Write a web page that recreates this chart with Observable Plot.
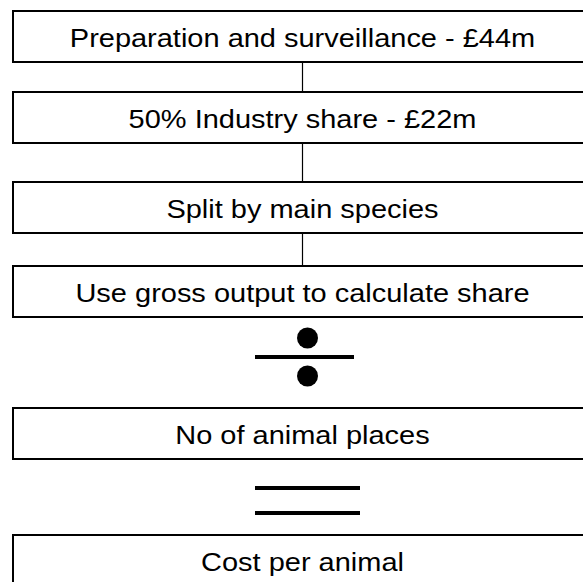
<!DOCTYPE html>
<html>
<head>
<meta charset="utf-8">
<script src="https://cdn.jsdelivr.net/npm/d3@7"></script>
<script src="https://cdn.jsdelivr.net/npm/@observablehq/plot@0.6"></script>
<style>
  html, body { margin: 0; padding: 0; background: #fff; overflow: hidden; }
  #chart svg { display: block; }
</style>
</head>
<body>
<div id="chart"></div>
<script>
// Flowchart steps (text in each box)
const labels = [
  "Preparation and surveillance - £44m",
  "50% Industry share - £22m",
  "Split by main species",
  "Use gross output to calculate share",
  "No of animal places",
  "Cost per animal"
];
// Operator placed between consecutive boxes
const operators = ["connector", "connector", "connector", "divide", "equals"];

// Layout (pixel-space diagram coordinates)
const W = 583, H = 582;
const boxTop = [11, 92, 182, 266, 408, 535];
const boxH = 51;
const boxLeft = 13, boxRight = 640;
const cx = 302;
const textStretch = 1.115;

const boxes = labels.map((label, i) => ({
  label, y1: boxTop[i], y2: boxTop[i] + boxH, yc: boxTop[i] + boxH / 2 + 2
}));

const connectors = [], divLines = [], divDots = [], eqLines = [];
operators.forEach((op, i) => {
  const a = boxes[i].y2, b = boxes[i + 1].y1;
  if (op === "connector") connectors.push({ y1: a, y2: b + 2 });
  else if (op === "divide") {
    const m = (a + b) / 2 - 7;
    divLines.push({ y: m + 1, x1: 255, x2: 354 });
    divDots.push({ x: 307, y: m - 18 }, { x: 307, y: m + 20 });
  } else if (op === "equals") {
    const m = (a + b) / 2 + 3;
    eqLines.push({ y: m - 12.5, x1: 255, x2: 360 }, { y: m + 12.5, x1: 255, x2: 360 });
  }
});

const chart = Plot.plot({
  width: W,
  height: H,
  margin: 0,
  x: { domain: [0, W], range: [0, W], axis: null },
  y: { domain: [0, H], range: [0, H], axis: null },
  style: { background: "#fff" },
  marks: [
    Plot.ruleX(connectors, { x: cx, y1: "y1", y2: "y2", stroke: "black", strokeWidth: 1.2 }),
    Plot.rect(boxes, { x1: boxLeft, x2: boxRight, y1: "y1", y2: "y2", fill: "white", stroke: "black", strokeWidth: 2 }),
    Plot.text(boxes, { x: cx, y: "yc", text: "label", fontSize: 26, fontFamily: "Liberation Sans, Arial, sans-serif", fill: "black", textAnchor: "middle", lineAnchor: "middle" }),
    Plot.ruleY(divLines, { y: "y", x1: "x1", x2: "x2", stroke: "black", strokeWidth: 4 }),
    Plot.dot(divDots, { x: "x", y: "y", r: 10.5, fill: "black", stroke: "none" }),
    Plot.ruleY(eqLines, { y: "y", x1: "x1", x2: "x2", stroke: "black", strokeWidth: 4 })
  ]
});

// Horizontally stretch the box labels to match the reference's wide lettering
chart.querySelectorAll('g[aria-label="text"] text').forEach((t) => {
  const tr = t.getAttribute("transform");
  if (tr) {
    t.setAttribute("transform", tr + ` scale(${textStretch},1)`);
  } else {
    const x = +t.getAttribute("x") || 0, y = +t.getAttribute("y") || 0;
    t.removeAttribute("x"); t.removeAttribute("y");
    t.setAttribute("transform", `translate(${x},${y}) scale(${textStretch},1)`);
  }
});

document.getElementById("chart").appendChild(chart);
</script>
</body>
</html>
